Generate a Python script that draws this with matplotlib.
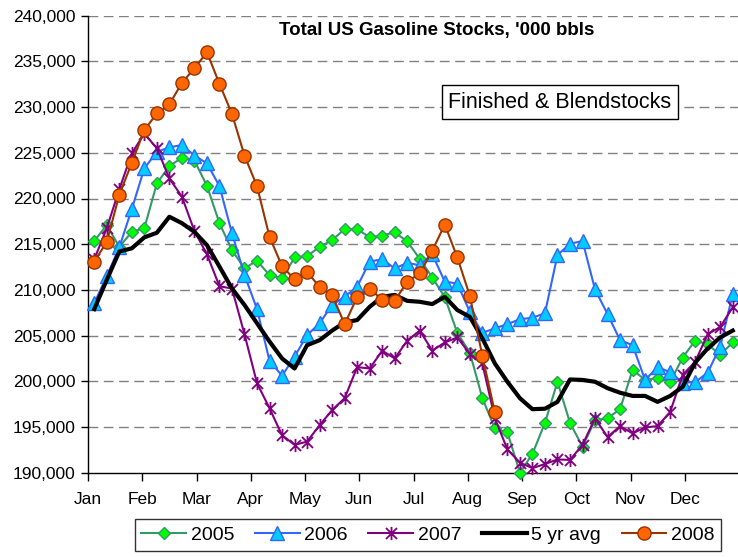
import matplotlib
matplotlib.use("Agg")
import matplotlib.pyplot as plt
from matplotlib.path import Path
import numpy as np

months = ["Jan", "Feb", "Mar", "Apr", "May", "Jun", "Jul", "Aug", "Sep", "Oct", "Nov", "Dec"]
y_ticks = [190000, 195000, 200000, 205000, 210000, 215000, 220000, 225000, 230000, 235000, 240000]

y2005 = [215350, 217100, 214700, 216350, 216750, 221650, 223550, 224450, 224150, 221400,
         217300, 214350, 212350, 213200, 211600, 211250, 213550, 213700, 214700, 215450,
         216650, 216650, 215750, 215950, 216300, 215300, 213400, 211350, 209200, 205300,
         203150, 198150, 194850, 194400, 190000, 192050, 195450, 199950, 195450, 192850,
         195750, 195950, 196950, 201250, 200150, 200350, 199900, 202600, 204450, 204050,
         202900, 204250]
y2006 = [208550, 211500, 214650, 218850, 223300, 225100, 225600, 225850, 224700, 223850,
         221350, 216200, 211650, 207900, 202250, 200600, 202700, 205050, 206350, 208350,
         209250, 210350, 213100, 213350, 212350, 212950, 212700, 213900, 210900, 210700,
         207600, 205300, 205800, 206250, 206800, 206950, 207450, 213800, 215050, 215350,
         210050, 207350, 204500, 203950, 200150, 201550, 201000, 199850, 199900, 200950,
         203800, 209550]
y2007 = [213350, 216750, 221000, 224950, 227100, 225500, 222200, 220200, 216450, 213900,
         210400, 210150, 205150, 199800, 197050, 194100, 193050, 193400, 195200, 196850,
         198150, 201550, 201400, 203350, 202500, 204450, 205550, 203350, 204250, 204800,
         203000, 201950, 195950, 192550, 191100, 190500, 190950, 191450, 191400, 193050,
         195950, 193900, 195100, 194300, 194950, 195100, 196650, 200700, 202150, 205150,
         205950, 208100]
avg5 = [207900, 211100, 214200, 214550, 215750, 216250, 218000, 217300, 216350, 214900,
        212550, 210150, 208350, 206350, 204350, 202500, 201400, 203950, 204500, 205550,
        206450, 206700, 208150, 209250, 209450, 208800, 208700, 208450, 209250, 207800,
        207050, 204700, 201950, 199950, 198150, 196950, 197000, 197750, 200200, 200150,
        199950, 199250, 198750, 198400, 198400, 197750, 198400, 199400, 202050, 203600,
        204800, 205550]
y2008 = [213100, 215250, 220400, 223900, 227500, 229300, 230300, 232650, 234250, 236000,
         232550, 229250, 224700, 221350, 215800, 212600, 211150, 212000, 210300, 209450,
         206250, 209200, 210150, 208900, 208800, 210900, 211800, 214300, 217150, 213550,
         209350, 202800, 196600]

plt.rcParams['font.family'] = ['Liberation Sans', 'DejaVu Sans']

fig = plt.figure(figsize=(7.38, 5.57), dpi=100)
W, H = 738, 557
left, right, bottom, top = 88, 738, 472.7, 15.7
ax = fig.add_axes([left / W, 1 - bottom / H, (right - left) / W, (bottom - top) / H])

star = Path([(-1, -1), (1, 1), (-1, 1), (1, -1), (0, -1.2), (0, 1.2)],
            [Path.MOVETO, Path.LINETO, Path.MOVETO, Path.LINETO, Path.MOVETO, Path.LINETO])

x05 = np.arange(len(y2005))
x06 = np.arange(len(y2006))
x07 = np.arange(len(y2007))
xav = np.arange(len(avg5))
x08 = np.arange(len(y2008))

ax.plot(x05, y2005, color='#339966', lw=1.5, marker='D', ms=6.5, mfc='#00FF00',
        mec='#339966', mew=1, label='2005', clip_on=False, zorder=3)
ax.plot(x06, y2006, color='#3366FF', lw=1.5, marker='^', ms=9.5, mfc='#00CCFF',
        mec='#3366FF', mew=1, label='2006', clip_on=False, zorder=4)
ax.plot(x07, y2007, color='#800080', lw=1.5, marker=star, ms=9.5, mfc='none',
        mec='#800080', mew=1.3, label='2007', clip_on=False, zorder=5)
ax.plot(xav, avg5, color='black', lw=3, label='5 yr avg', clip_on=False, zorder=6)
ax.plot(x08, y2008, color='#993300', lw=1.5, marker='o', ms=9.5, mfc='#FF6600',
        mec='#993300', mew=1, label='2008', clip_on=False, zorder=7)

ax.set_xlim(-0.5, 51.42)
ax.set_ylim(190000, 240000)
ax.set_yticks(y_ticks)
ax.set_yticklabels([f"{v:,}" for v in y_ticks], fontsize=12.5)
mt = [-0.5 + k * 52 / 12 for k in range(12)]
ax.set_xticks(mt)
ax.set_xticklabels(months, fontsize=12.5)
ax.tick_params(axis='y', direction='out', length=5, width=1, pad=4)
ax.tick_params(axis='x', direction='out', length=6, width=1, pad=8)

for v in y_ticks[1:]:
    ax.axhline(v, color='#808080', lw=1.0, dashes=(7, 4), zorder=1)

for s in ['top', 'right']:
    ax.spines[s].set_visible(False)
for s in ['left', 'bottom']:
    ax.spines[s].set_color('black')
    ax.spines[s].set_linewidth(1)

fig.text(437 / W, 1 - 30 / H, "Total US Gasoline Stocks, '000 bbls", ha='center', va='center',
         fontsize=13.5, fontweight='bold')
fig.text(560 / W, 1 - 102 / H, "Finished & Blendstocks", ha='center', va='center', fontsize=15.5,
         bbox=dict(boxstyle='square,pad=0.3', fc='white', ec='black', lw=1))

leg = fig.legend(loc='center', bbox_to_anchor=(428 / W, 1 - 535 / H), ncol=5, fontsize=14,
                 frameon=True, fancybox=False, edgecolor='black', handlelength=2.3,
                 handletextpad=0.25, columnspacing=1.05, borderpad=0.35, borderaxespad=0)
leg.get_frame().set_linewidth(1)

fig.savefig('out.png', dpi=100)
